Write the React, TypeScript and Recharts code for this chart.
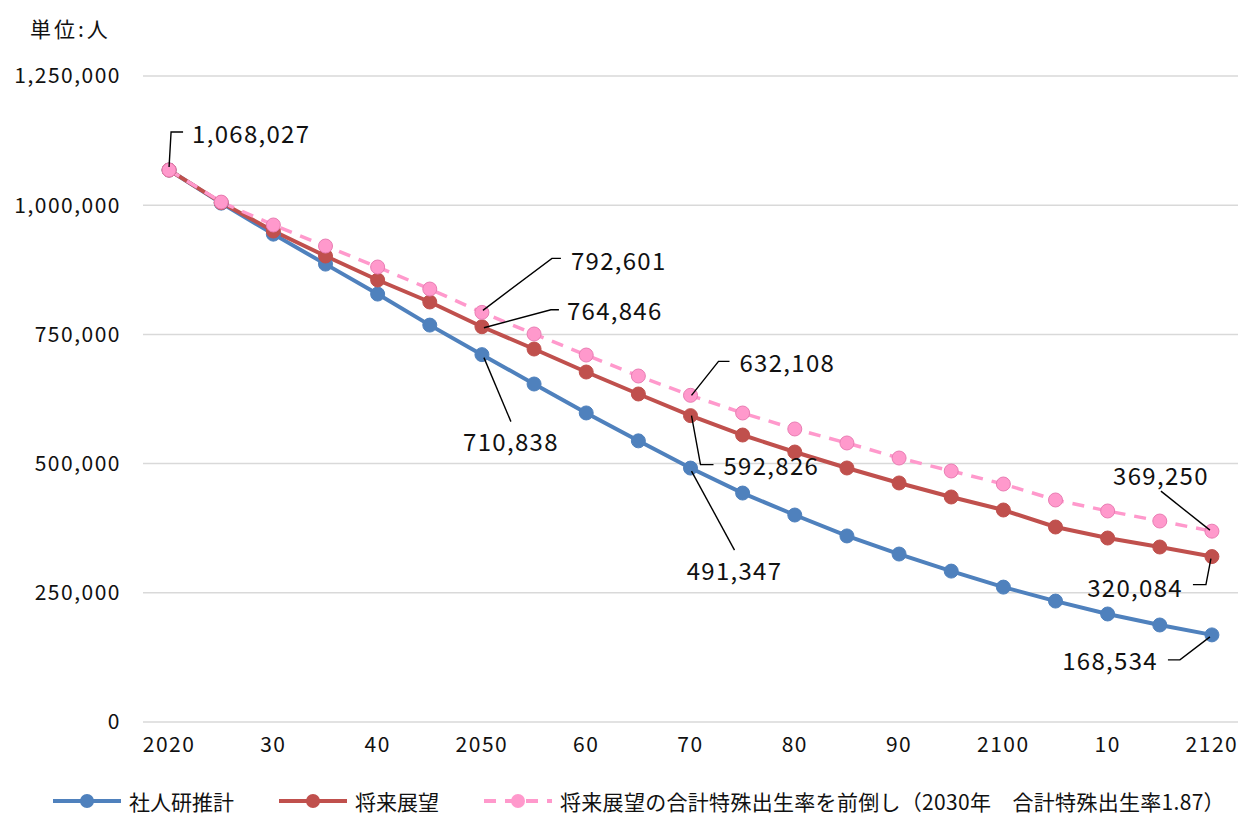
import React from 'react';
import { LineChart, Line, XAxis, YAxis, CartesianGrid } from 'recharts';

// 年（5年刻み）
const YEARS = [
  2020, 2025, 2030, 2035, 2040, 2045, 2050, 2055, 2060, 2065, 2070,
  2075, 2080, 2085, 2090, 2095, 2100, 2105, 2110, 2115, 2120,
];

// 社人研推計
const SHAJINKEN = [
  1068027, 1004000, 944000, 886000, 828000, 768000, 710838, 654000, 598000, 544000, 491347,
  443000, 400500, 360000, 325000, 292000, 261000, 234000, 209000, 187700, 168534,
];

// 将来展望
const SHORAI = [
  1068027, 1005000, 950000, 901700, 855300, 812700, 764846, 721700, 677200, 634700, 592826,
  555300, 522400, 491500, 462500, 435400, 410200, 377300, 356000, 338600, 320084,
];

// 将来展望の合計特殊出生率を前倒し
const MAEDAOSHI = [
  1068027, 1006000, 961700, 921000, 880400, 837800, 792601, 750800, 710100, 669500, 632108,
  597900, 567000, 539900, 510800, 485700, 460500, 429600, 408300, 388900, 369250,
];

const X_TICKS = [2020, 2030, 2040, 2050, 2060, 2070, 2080, 2090, 2100, 2110, 2120];
const Y_TICKS = [0, 250000, 500000, 750000, 1000000, 1250000];
const FULL_YEAR_TICKS = [2020, 2050, 2100, 2120];

const SERIES_NAMES = [
  '社人研推計',
  '将来展望',
  '将来展望の合計特殊出生率を前倒し（2030年　合計特殊出生率1.87）',
];

const data = YEARS.map((year, i) => ({
  year,
  shajinken: SHAJINKEN[i],
  shorai: SHORAI[i],
  maedaoshi: MAEDAOSHI[i],
}));

const BLUE = '#4F81BD';
const RED = '#C0504D';
const PINK = '#FF99CC';
const FONT = '"Noto Sans CJK JP", "Noto Sans", sans-serif';

type Note = { path: number[][]; text: number[]; anchor: 'start' | 'middle' | 'end' };

// leader line / label placement, relative to the point
const BLUE_NOTES: Record<number, Note> = {
  6: { path: [[2, 3], [29, 67]], text: [29, 86], anchor: 'middle' },
  10: { path: [[1, 3], [44, 82]], text: [44, 101], anchor: 'middle' },
  20: { path: [[-2, 2], [-32, 25], [-44, 25]], text: [-54, 25], anchor: 'end' },
};
const RED_NOTES: Record<number, Note> = {
  6: { path: [[2, 1], [69, -17], [77, -17]], text: [85, -17], anchor: 'start' },
  10: { path: [[1, 0], [10, 49], [23, 49]], text: [33, 49], anchor: 'start' },
  20: { path: [[-1, 2], [-6, 28], [-19, 28]], text: [-29, 30], anchor: 'end' },
};
const PINK_NOTES: Record<number, Note> = {
  0: { path: [[0, -3], [2, -38], [14, -38]], text: [23, -38], anchor: 'start' },
  6: { path: [[1, -2], [70, -54], [79, -54]], text: [89, -53], anchor: 'start' },
  10: { path: [[1, 0], [28, -34], [39, -34]], text: [49, -34], anchor: 'start' },
  20: { path: [[-2, -1], [-51, -40]], text: [-51, -57], anchor: 'middle' },
};

const makeNoteLabel = (notes: Record<number, Note>) => (props: any) => {
  const { x, y, index, value } = props;
  const note = notes[index];
  if (!note || x == null || y == null) return null;
  const pts = note.path.map(([dx, dy]) => `${x + dx},${y + dy}`).join(' ');
  return (
    <g key={`note-${index}`}>
      <polyline points={pts} fill="none" stroke="#000" strokeWidth={1.4} />
      <text
        x={x + note.text[0]}
        y={y + note.text[1]}
        textAnchor={note.anchor}
        dominantBaseline="central"
        fontSize={24}
        letterSpacing={1.3}
        fontFamily={FONT}
        fill="#111"
      >
        {Number(value).toLocaleString('en-US')}
      </text>
    </g>
  );
};

const formatYear = (v: number) =>
  FULL_YEAR_TICKS.includes(v) ? String(v) : String(v % 100).padStart(2, '0');

const LegendItem = ({ color, dashed, label }: { color: string; dashed?: boolean; label: string }) => (
  <div style={{ display: 'flex', alignItems: 'center', marginRight: 45, height: 24 }}>
    <svg width={68} height={20} style={{ marginRight: 8 }}>
      <line
        x1={0}
        y1={10}
        x2={68}
        y2={10}
        stroke={color}
        strokeWidth={4}
        strokeDasharray={dashed ? '12 9' : undefined}
      />
      <circle cx={34} cy={10} r={7} fill={color} />
    </svg>
    <span style={{ letterSpacing: dashed ? 0.3 : 0 }}>{label}</span>
  </div>
);

export default function App() {
  return (
    <div
      style={{
        position: 'absolute',
        left: 0,
        top: 0,
        width: 1239,
        height: 814,
        background: '#fff',
        fontFamily: FONT,
      }}
    >
      <div style={{ position: 'absolute', left: 30, top: 13, fontSize: 21, color: '#111', letterSpacing: 3 }}>
        単位:人
      </div>
      <LineChart
        width={1239}
        height={814}
        data={data}
        margin={{ top: 76, right: 1, bottom: 62, left: 63 }}
      >
        <CartesianGrid vertical={false} stroke="#D9D9D9" strokeWidth={1.5} />
        <XAxis
          dataKey="year"
          type="number"
          height={30}
          domain={[2017.5, 2122.5]}
          ticks={X_TICKS}
          tickFormatter={formatYear}
          axisLine={false}
          tickLine={false}
          tickSize={0}
          tickMargin={15}
          tick={{ fontSize: 21, fill: '#111', fontFamily: FONT, letterSpacing: 1.5 }}
        />
        <YAxis
          width={80}
          domain={[0, 1250000]}
          ticks={Y_TICKS}
          tickFormatter={(v: number) => v.toLocaleString('en-US')}
          axisLine={false}
          tickLine={false}
          tickSize={0}
          tickMargin={22}
          tick={{ fontSize: 21, fill: '#111', fontFamily: FONT, letterSpacing: 1.5 }}
        />
        <Line
          dataKey="shajinken"
          name={SERIES_NAMES[0]}
          stroke={BLUE}
          strokeWidth={4}
          dot={{ r: 7, fill: BLUE, stroke: BLUE, strokeWidth: 1 }}
          activeDot={false}
          isAnimationActive={false}
          label={makeNoteLabel(BLUE_NOTES)}
        />
        <Line
          dataKey="shorai"
          name={SERIES_NAMES[1]}
          stroke={RED}
          strokeWidth={4}
          dot={{ r: 7, fill: RED, stroke: RED, strokeWidth: 1 }}
          activeDot={false}
          isAnimationActive={false}
          label={makeNoteLabel(RED_NOTES)}
        />
        <Line
          dataKey="maedaoshi"
          name={SERIES_NAMES[2]}
          stroke={PINK}
          strokeWidth={3.5}
          strokeDasharray="12 9"
          dot={{ r: 7, fill: PINK, stroke: '#E97DB3', strokeWidth: 1, strokeDasharray: '0' }}
          activeDot={false}
          isAnimationActive={false}
          label={makeNoteLabel(PINK_NOTES)}
        />
      </LineChart>
      <div
        style={{
          position: 'absolute',
          left: 53,
          top: 789,
          display: 'flex',
          alignItems: 'center',
          fontSize: 21,
          lineHeight: '24px',
          color: '#111',
          whiteSpace: 'nowrap',
        }}
      >
        <LegendItem color={BLUE} label={SERIES_NAMES[0]} />
        <LegendItem color={RED} label={SERIES_NAMES[1]} />
        <LegendItem color={PINK} dashed label={SERIES_NAMES[2]} />
      </div>
    </div>
  );
}
